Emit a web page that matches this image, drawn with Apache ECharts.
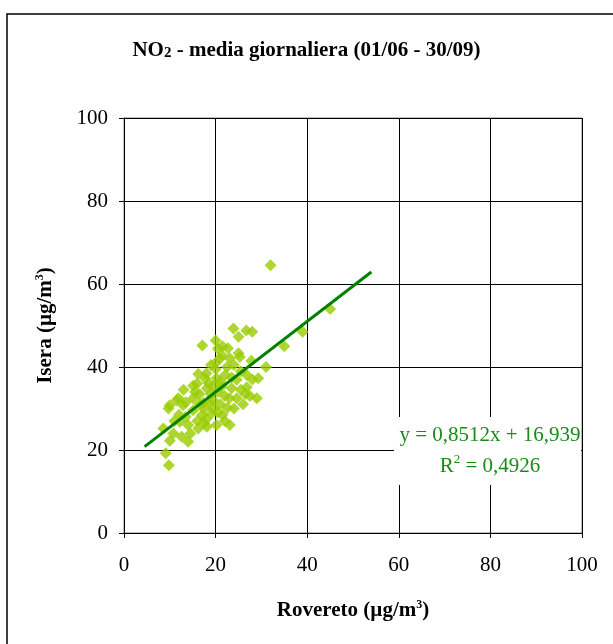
<!DOCTYPE html>
<html>
<head>
<meta charset="utf-8">
<script src="https://cdn.jsdelivr.net/npm/echarts@6/dist/echarts.min.js"></script>
<style>html,body{margin:0;padding:0;background:#fff}#c{width:613px;height:644px}</style>
</head>
<body>
<div id="c"></div>
<script>
// Rovereto (x) vs Isera (y), daily NO2 means
const roveretoX = [32.0,45.0,39.0,35.0,31.0,28.0,26.7,23.9,25.0,17.1,20.0,20.5,22.7,25.0,21.4,27.8,20.9,23.1,25.3,29.3,
  26.8,24.6,22.1,20.2,17.7,16.2,15.1,18.1,21.3,23.5,26.8,29.0,26.0,24.6,22.6,11.9,10.0,9.7,12.9,15.1,
  17.3,19.5,15.1,17.0,19.1,20.2,23.1,18.1,16.2,14.0,12.2,8.6,10.8,12.6,14.0,10.0,9.1,9.8,11.5,16.5,
  18.5,19.0,20.5,21.0,19.5,17.5,18.0,16.0,21.5,22.0,20.0,19.0,18.0,22.5,23.5,25.5,24.0,26.5,28.0,13.5,
  12.0,14.5,16.5,13.5,15.5,21.0,23.0,27.5,20.5,22.0,18.5,16.0,19.5,24.0,25.5,11.0,13.0,17.5,20.0,21.5];
const iseraY = [64.5,54.0,48.5,45.0,40.0,48.5,48.8,49.3,47.3,45.2,46.4,44.4,44.5,43.3,42.8,41.5,42.0,42.1,42.4,37.3,
  38.1,36.9,38.1,37.3,37.3,38.3,35.5,34.9,35.3,34.9,35.1,32.5,31.0,32.5,30.2,32.5,30.8,30.0,30.8,32.5,
  31.3,32.0,29.6,28.4,28.8,26.0,26.0,25.6,25.2,26.0,26.8,25.2,24.0,23.2,22.0,22.2,19.2,16.3,32.0,33.5,
  36.0,33.5,34.0,31.0,30.0,30.0,27.5,27.0,28.5,33.0,39.5,40.5,38.5,40.0,37.5,39.0,40.5,33.5,37.0,28.0,
  28.5,24.0,31.0,31.5,34.0,36.5,32.5,33.0,29.0,27.0,31.5,36.0,35.5,30.0,34.5,27.0,34.5,26.5,41.0,45.0];
// Linear trend endpoints (y = 0,8512x + 16,939)
const trendX = [4.5, 54.0];
const trendY = [20.8, 62.9];
const axisTicks = [0, 20, 40, 60, 80, 100];

const points = roveretoX.map((x, i) => [x, iseraY[i]]);
const trend = trendX.map((x, i) => [x, trendY[i]]);

const serif = '"Liberation Serif", "Times New Roman", serif';
const chart = echarts.init(document.getElementById('c'), null, {renderer: 'canvas'});
chart.setOption({
  animation: false,
  backgroundColor: '#fff',
  title: {
    text: '{a|NO}{b|2}{a| - media giornaliera (01/06 - 30/09)}',
    left: 'center', top: 35,
    textStyle: {
      rich: {
        a: {fontFamily: serif, fontWeight: 'bold', fontSize: 21, color: '#000'},
        b: {fontFamily: serif, fontWeight: 'bold', fontSize: 15, color: '#000', verticalAlign: 'bottom', padding: [4, 0, 0, 0]}
      }
    }
  },
  grid: {left: 124, right: 31, top: 118, bottom: 111, containLabel: false,
    show: true, borderColor: '#808080', borderWidth: 1},
  xAxis: {
    type: 'value', min: axisTicks[0], max: axisTicks[axisTicks.length - 1], interval: 20,
    name: '{t|Rovereto (µg/m}{s|3}{t|)}', nameLocation: 'middle', nameGap: 66,
    nameTextStyle: {rich: {
      t: {fontFamily: serif, fontWeight: 'bold', fontSize: 21, color: '#000'},
      s: {fontFamily: serif, fontWeight: 'bold', fontSize: 12, color: '#000', verticalAlign: 'top', padding: [0, 0, 12, 0]}
    }},
    axisLine: {show: true, lineStyle: {color: '#000', width: 1}},
    axisTick: {show: true, inside: false, length: 5, lineStyle: {color: '#000'}},
    axisLabel: {fontFamily: serif, fontSize: 21, color: '#000', margin: 22},
    splitLine: {show: true, lineStyle: {color: '#000', width: 1}}
  },
  yAxis: {
    type: 'value', min: axisTicks[0], max: axisTicks[axisTicks.length - 1], interval: 20,
    name: '{t|Isera (µg/m}{s|3}{t|)}', nameLocation: 'middle', nameGap: 66, nameRotate: 90,
    nameTextStyle: {rich: {
      t: {fontFamily: serif, fontWeight: 'bold', fontSize: 21, color: '#000'},
      s: {fontFamily: serif, fontWeight: 'bold', fontSize: 12, color: '#000', verticalAlign: 'top', padding: [0, 0, 12, 0]}
    }},
    axisLine: {show: true, lineStyle: {color: '#000', width: 1}},
    axisTick: {show: true, inside: false, length: 5, lineStyle: {color: '#000'}},
    axisLabel: {fontFamily: serif, fontSize: 21, color: '#000', margin: 16},
    splitLine: {show: true, lineStyle: {color: '#000', width: 1}}
  },
  series: [
    {
      type: 'scatter', data: points, symbol: 'diamond', symbolSize: 12,
      itemStyle: {color: '#99cc00'}, z: 3
    },
    {
      type: 'line', data: trend, symbol: 'none',
      lineStyle: {color: '#008000', width: 3}, z: 4
    }
  ],
  graphic: [
    {type: 'rect', shape: {x: 7, y: 14, width: 700, height: 700},
     style: {fill: 'none', stroke: '#000', lineWidth: 1.5}, z: 100, silent: true},
    {type: 'rect', shape: {x: 394, y: 417, width: 187, height: 68},
     style: {fill: '#fff'}, z: 50, silent: true},
    {type: 'text', x: 490, y: 435, z: 60,
     style: {text: 'y = 0,8512x + 16,939', fill: '#1a8a1a', font: '21px ' + serif, textAlign: 'center', textVerticalAlign: 'middle'}},
    {type: 'text', x: 490, y: 466, z: 60,
     style: {text: '{t|R}{s|2}{t| = 0,4926}', fill: '#1a8a1a', textAlign: 'center', textVerticalAlign: 'middle',
       rich: {t: {fontFamily: serif, fontSize: 21, fill: '#1a8a1a', color: '#1a8a1a'},
              s: {fontFamily: serif, fontSize: 13, color: '#1a8a1a', verticalAlign: 'top', padding: [0, 0, 12, 0]}}}}
  ]
});
</script>
</body>
</html>
